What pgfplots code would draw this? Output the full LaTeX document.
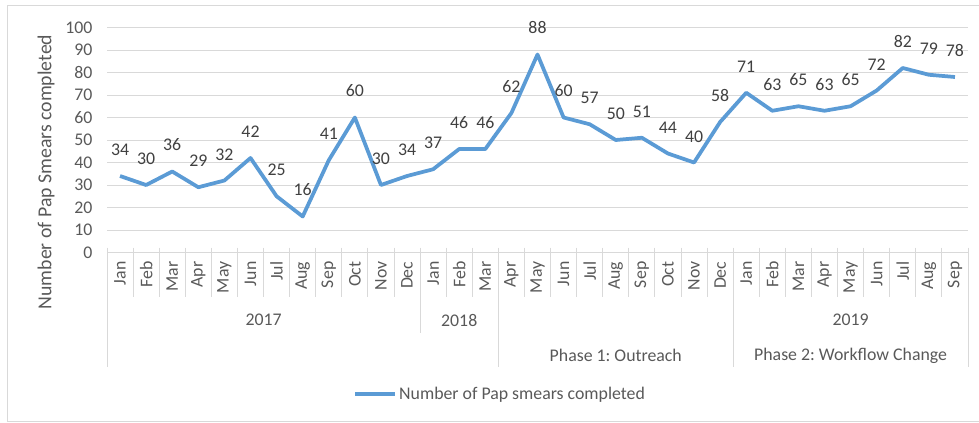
\documentclass[border=0pt]{standalone}
\usepackage{pgfplots}
\pgfplotsset{compat=1.18}
\usepackage{fontspec}
\setmainfont{Carlito}
\frenchspacing
\definecolor{linec}{HTML}{5B9BD5}
\definecolor{gridc}{HTML}{D9D9D9}
\definecolor{txt}{HTML}{595959}
\definecolor{lbl}{HTML}{404040}
\newcommand\fs{\fontsize{17.8bp}{21bp}\selectfont}
\newcommand\ft{\fontsize{19.8bp}{23bp}\selectfont}
\begin{document}
\begin{tikzpicture}
\useasboundingbox (0bp,0bp) rectangle (979bp,-423bp);
\draw[gridc, line width=1bp] (7.5bp,-5.5bp) rectangle (995bp,-421.5bp);
\begin{axis}[
  at={(107bp,-252.5bp)}, anchor=south west,
  scale only axis, width=861bp, height=225bp,
  xmin=-0.5, xmax=32.5, ymin=0, ymax=100,
  ytick={0,10,...,100},
  xtick={0,...,32},
  xticklabels={Jan,Feb,Mar,Apr,May,Jun,Jul,Aug,Sep,Oct,Nov,Dec,Jan,Feb,Mar,Apr,May,Jun,Jul,Aug,Sep,Oct,Nov,Dec,Jan,Feb,Mar,Apr,May,Jun,Jul,Aug,Sep},
  xticklabel style={yshift=-5.6bp, rotate=90, anchor=east},
  yticklabel style={anchor=east, xshift=-11bp},
  major tick length=0pt,
  axis line style={draw=none},
  ymajorgrids, grid style={gridc, line width=1bp},
  tick label style={font=\fs, text=txt},
  /pgf/number format/assume math mode=true,
  clip=false,
  legend style={draw=none, fill=none, at={(rel axis cs:0.286,-0.629)}, anchor=west, inner sep=0pt, font=\fs, text=txt, legend cell align=left,
    nodes={inner sep=2bp}},
  legend image code/.code={\draw[linec, line width=3.75bp] (0bp,0bp) -- (40bp,0bp);},
]
\addplot[linec, line width=3.75bp, line join=round, mark=none,
  nodes near coords, nodes near coords style={font=\fs, text=lbl, inner sep=0pt, yshift=18.5bp}]
coordinates {
(0,34)(1,30)(2,36)(3,29)(4,32)(5,42)(6,25)(7,16)(8,41)(9,60)(10,30)(11,34)
(12,37)(13,46)(14,46)(15,62)(16,88)(17,60)(18,57)(19,50)(20,51)(21,44)(22,40)(23,58)
(24,71)(25,63)(26,65)(27,63)(28,65)(29,72)(30,82)(31,79)(32,78)
};
\addlegendentry{Number of Pap smears completed}
\pgfplotsinvokeforeach{-0.5,0.5,1.5,2.5,3.5,4.5,5.5,6.5,7.5,8.5,9.5,10.5,11.5,12.5,13.5,14.5,15.5,16.5,17.5,18.5,19.5,20.5,21.5,22.5,23.5,24.5,25.5,26.5,27.5,28.5,29.5,30.5,31.5,32.5}{
  \draw[gridc, line width=1bp] ([yshift=5bp]axis cs:#1,0) -- ([yshift=-44.5bp]axis cs:#1,0);
}
\draw[gridc, line width=1bp] (axis cs:11.5,0) -- ([yshift=-80.5bp]axis cs:11.5,0);
\pgfplotsinvokeforeach{-0.5,14.5,23.5,32.5}{
  \draw[gridc, line width=1bp] (axis cs:#1,0) -- ([yshift=-114.5bp]axis cs:#1,0);
}
\node[font=\fs, text=txt] at ([yshift=-67.5bp]axis cs:5.5,0) {2017};
\node[font=\fs, text=txt] at ([yshift=-67.5bp]axis cs:13,0) {2018};
\node[font=\fs, text=txt] at ([yshift=-67.5bp]axis cs:28,0) {2019};
\node[font=\fs, text=txt] at ([yshift=-103.2bp]axis cs:19,0) {Phase 1: Outreach};
\node[font=\fs, text=txt] at ([yshift=-103.2bp]axis cs:28,0) {Phase 2: Workflow Change};
\end{axis}
\node[font=\ft, text=txt, rotate=90] at (46bp,-172bp) {Number of Pap Smears completed};
\end{tikzpicture}
\end{document}
